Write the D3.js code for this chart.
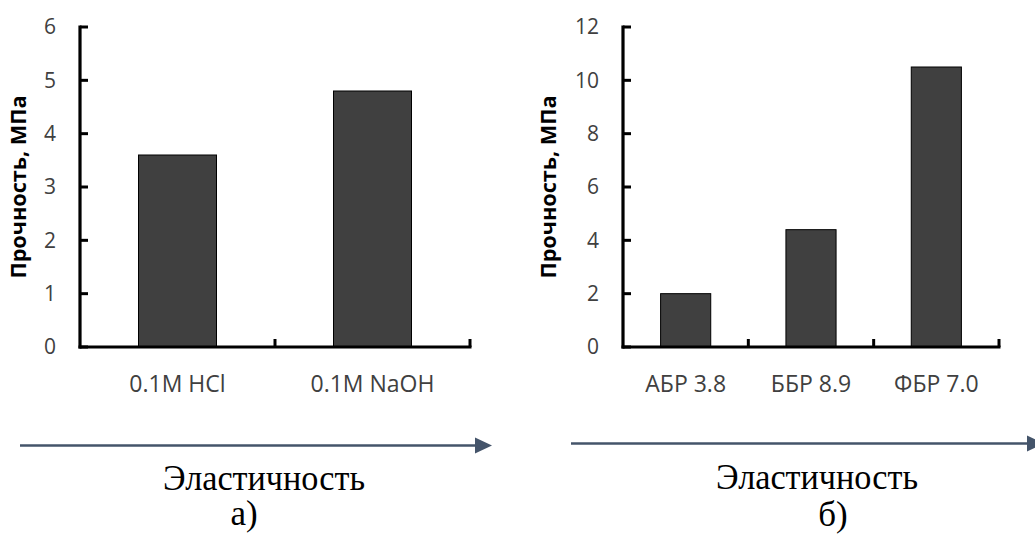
<!DOCTYPE html>
<html>
<head>
<meta charset="utf-8">
<script src="https://cdn.jsdelivr.net/npm/d3@7"></script>
<style>
  body { margin: 0; background: #fff; }
  svg { display: block; }
  .tick-label { font-family: "Open Sans", sans-serif; font-size: 21px; fill: #404040; }
  .cat-label { font-family: "Open Sans", sans-serif; font-size: 23px; fill: #404040; }
  .y-title { font-family: "Open Sans", sans-serif; font-size: 22px; font-weight: bold; fill: #000; }
  .caption { font-family: "Liberation Serif", "Times New Roman", serif; font-size: 35px; fill: #000; }
</style>
</head>
<body>
<div id="here"></div>
<script>
// data
const catsA = ["0.1M HCl", "0.1M NaOH"];
const valsA = [3.6, 4.8];
const ticksA = [0, 1, 2, 3, 4, 5, 6];

const catsB = ["АБР 3.8", "ББР 8.9", "ФБР 7.0"];
const valsB = [2.0, 4.4, 10.5];
const ticksB = [0, 2, 4, 6, 8, 10, 12];

const yTitle = "Прочность, МПа";
const captionText = "Эластичность";
const panelLabels = ["а)", "б)"];

const width = 1035;
const height = 535;

const svg = d3.select("#here")
    .append("svg")
    .attr("width", width)
    .attr("height", height);

// one panel = one bar chart
const drawPanel = (cfg) => {
    const g = svg.append("g");

    const xScale = d3.scaleBand()
        .domain(cfg.cats)
        .range([cfg.x0, cfg.x1])
        .paddingInner(0.6)
        .paddingOuter(0.3);

    const yScale = d3.scaleLinear()
        .domain([0, d3.max(cfg.ticks)])
        .range([347, 27]);

    // bars
    g.selectAll("rect.bar")
        .data(cfg.vals)
        .enter()
        .append("rect")
        .attr("class", "bar")
        .attr("x", (d, i) => xScale(cfg.cats[i]))
        .attr("y", d => yScale(d))
        .attr("width", xScale.bandwidth())
        .attr("height", d => yScale(0) - yScale(d))
        .attr("fill", "#404040")
        .attr("stroke", "#000")
        .attr("stroke-width", 1);

    // y axis: line, inward ticks, labels
    g.append("line")
        .attr("x1", cfg.x0).attr("x2", cfg.x0)
        .attr("y1", yScale(d3.max(cfg.ticks)) - 1.5)
        .attr("y2", yScale(0) + 1.5)
        .attr("stroke", "#000")
        .attr("stroke-width", 3.2);

    g.selectAll("line.ytick")
        .data(cfg.ticks)
        .enter()
        .append("line")
        .attr("class", "ytick")
        .attr("x1", cfg.x0)
        .attr("x2", cfg.x0 + 8)
        .attr("y1", d => yScale(d))
        .attr("y2", d => yScale(d))
        .attr("stroke", "#000")
        .attr("stroke-width", 3);

    g.selectAll("text.ylab")
        .data(cfg.ticks)
        .enter()
        .append("text")
        .attr("class", "tick-label")
        .attr("x", cfg.x0 - 24)
        .attr("y", d => yScale(d))
        .attr("dy", "0.35em")
        .attr("text-anchor", "end")
        .text(d => d);

    // x axis: line, upward ticks at category edges, labels
    g.append("line")
        .attr("x1", cfg.x0 - 1.5).attr("x2", cfg.x1 + 1.5)
        .attr("y1", yScale(0)).attr("y2", yScale(0))
        .attr("stroke", "#000")
        .attr("stroke-width", 3.2);

    const step = xScale.step();
    g.selectAll("line.xtick")
        .data(cfg.cats)
        .enter()
        .append("line")
        .attr("class", "xtick")
        .attr("x1", (d, i) => cfg.x0 + (i + 1) * step)
        .attr("x2", (d, i) => cfg.x0 + (i + 1) * step)
        .attr("y1", yScale(0))
        .attr("y2", yScale(0) - 8)
        .attr("stroke", "#000")
        .attr("stroke-width", 3);

    g.selectAll("text.xlab")
        .data(cfg.cats)
        .enter()
        .append("text")
        .attr("class", "cat-label")
        .attr("x", d => xScale(d) + xScale.bandwidth() / 2)
        .attr("y", 392)
        .attr("text-anchor", "middle")
        .text(d => d);

    // y title
    g.append("text")
        .attr("class", "y-title")
        .attr("transform", `translate(${cfg.titleX}, 187) rotate(-90)`)
        .attr("text-anchor", "middle")
        .attr("textLength", 183)
        .attr("lengthAdjust", "spacingAndGlyphs")
        .text(yTitle);

    // arrow under the chart
    const arrowY = cfg.arrowY;
    g.append("line")
        .attr("x1", cfg.arrowX0).attr("x2", cfg.arrowX1 - 16)
        .attr("y1", arrowY).attr("y2", arrowY)
        .attr("stroke", "#44546A")
        .attr("stroke-width", 2.6);
    g.append("path")
        .attr("d", `M${cfg.arrowX1 - 17},${arrowY - 8} L${cfg.arrowX1},${arrowY} L${cfg.arrowX1 - 17},${arrowY + 8} Z`)
        .attr("fill", "#44546A");

    // caption and panel letter
    g.append("text")
        .attr("class", "caption")
        .attr("x", cfg.capX)
        .attr("y", cfg.capY)
        .attr("text-anchor", "middle")
        .attr("textLength", 202)
        .attr("lengthAdjust", "spacingAndGlyphs")
        .text(captionText);
    g.append("text")
        .attr("class", "caption")
        .attr("x", cfg.letterX)
        .attr("y", cfg.letterY)
        .attr("text-anchor", "middle")
        .text(cfg.letter);
};

drawPanel({
    cats: catsA, vals: valsA, ticks: ticksA,
    x0: 80, x1: 470, titleX: 26,
    arrowX0: 20, arrowX1: 492, arrowY: 445.5,
    capX: 264, capY: 490, letterX: 244, letterY: 525, letter: panelLabels[0]
});

drawPanel({
    cats: catsB, vals: valsB, ticks: ticksB,
    x0: 623, x1: 999, titleX: 556,
    arrowX0: 571, arrowX1: 1044, arrowY: 443.5,
    capX: 817, capY: 489, letterX: 833, letterY: 526, letter: panelLabels[1]
});
</script>
</body>
</html>
